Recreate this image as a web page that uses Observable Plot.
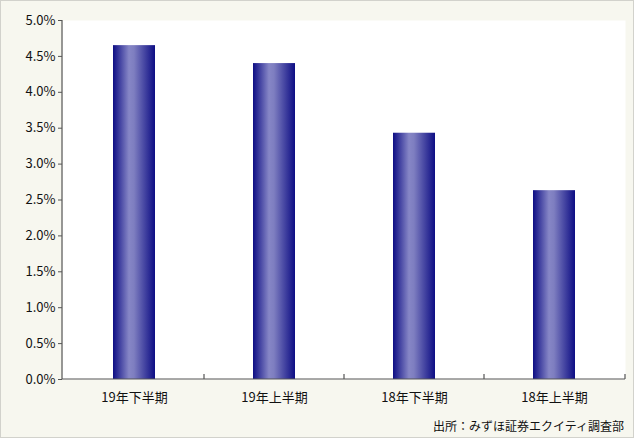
<!DOCTYPE html>
<html>
<head>
<meta charset="utf-8">
<script src="https://cdn.jsdelivr.net/npm/d3@7"></script>
<script src="https://cdn.jsdelivr.net/npm/@observablehq/plot@0.6"></script>
<style>
  html, body { margin: 0; padding: 0; background: #fff; }
  #chart { position: relative; width: 634px; height: 438px; }
  #chart svg { position: absolute; left: 0; top: 0; background: #f7f7ef; outline: 1px solid #d2d2cc; outline-offset: -1px; }
  #caption { position: absolute; right: 10px; top: 417px; font: 12px "Noto Sans CJK JP", sans-serif; color: #111; white-space: nowrap; }
</style>
</head>
<body>
<div id="chart"></div>
<script>
const categories = ["19年下半期", "19年上半期", "18年下半期", "18年上半期"];
const values = [4.65, 4.40, 3.43, 2.63];
const yTicks = [0, 0.5, 1, 1.5, 2, 2.5, 3, 3.5, 4, 4.5, 5];
const captionText = "出所：みずほ証券エクイティ調査部";

const data = categories.map((c, i) => ({category: c, value: values[i]}));

const plot = Plot.plot({
  width: 634,
  height: 438,
  marginLeft: 62,
  marginRight: 9,
  marginTop: 20,
  marginBottom: 59,
  style: {fontFamily: "'Noto Sans CJK JP', sans-serif", fontSize: "13px", color: "#111", background: "#f7f7ef"},
  x: {domain: categories, padding: 0},
  y: {domain: [0, 5]},
  marks: [
    Plot.frame({fill: "white", stroke: null}),
    Plot.barY(data, {x: "category", y: "value", fill: "url(#barGrad)", insetLeft: 49, insetRight: 49}),
    Plot.axisY({ticks: yTicks, tickFormat: d => d.toFixed(1) + "%", tickSize: 4, tickPadding: 3, label: null, stroke: "#555", fill: "#111", fontSize: 13}),
    Plot.axisX({tickSize: 0, tickPadding: 13, label: null, fill: "#111", fontSize: 13})
  ]
});

const svg = d3.select(plot);
const defs = svg.insert("defs", ":first-child");
const g = defs.append("linearGradient").attr("id", "barGrad").attr("x1", 0).attr("x2", 1).attr("y1", 0).attr("y2", 0);
g.append("stop").attr("offset", 0).attr("stop-color", "#0d0d84");
g.append("stop").attr("offset", 0.38).attr("stop-color", "#8686c6");
g.append("stop").attr("offset", 0.5).attr("stop-color", "#7e7ec0");
g.append("stop").attr("offset", 1).attr("stop-color", "#0d0d84");

const xs = plot.scale("x");
const ys = plot.scale("y");
const [x0, x1] = xs.range;
const [yb, yt] = ys.range;
const axes = svg.append("g").attr("stroke", "#555").attr("stroke-width", 1.2);
axes.append("line").attr("x1", x0).attr("x2", x0).attr("y1", yt).attr("y2", yb);
axes.append("line").attr("x1", x0).attr("x2", x1).attr("y1", yb).attr("y2", yb);
const boundaries = categories.slice(1).map(c => xs.apply(c)).concat([x1]);
boundaries.forEach(bx => {
  axes.append("line").attr("x1", bx).attr("x2", bx).attr("y1", yb).attr("y2", yb - 5);
});

const chart = document.getElementById("chart");
chart.appendChild(plot);
const cap = document.createElement("div");
cap.id = "caption";
cap.textContent = captionText;
chart.appendChild(cap);
</script>
</body>
</html>
